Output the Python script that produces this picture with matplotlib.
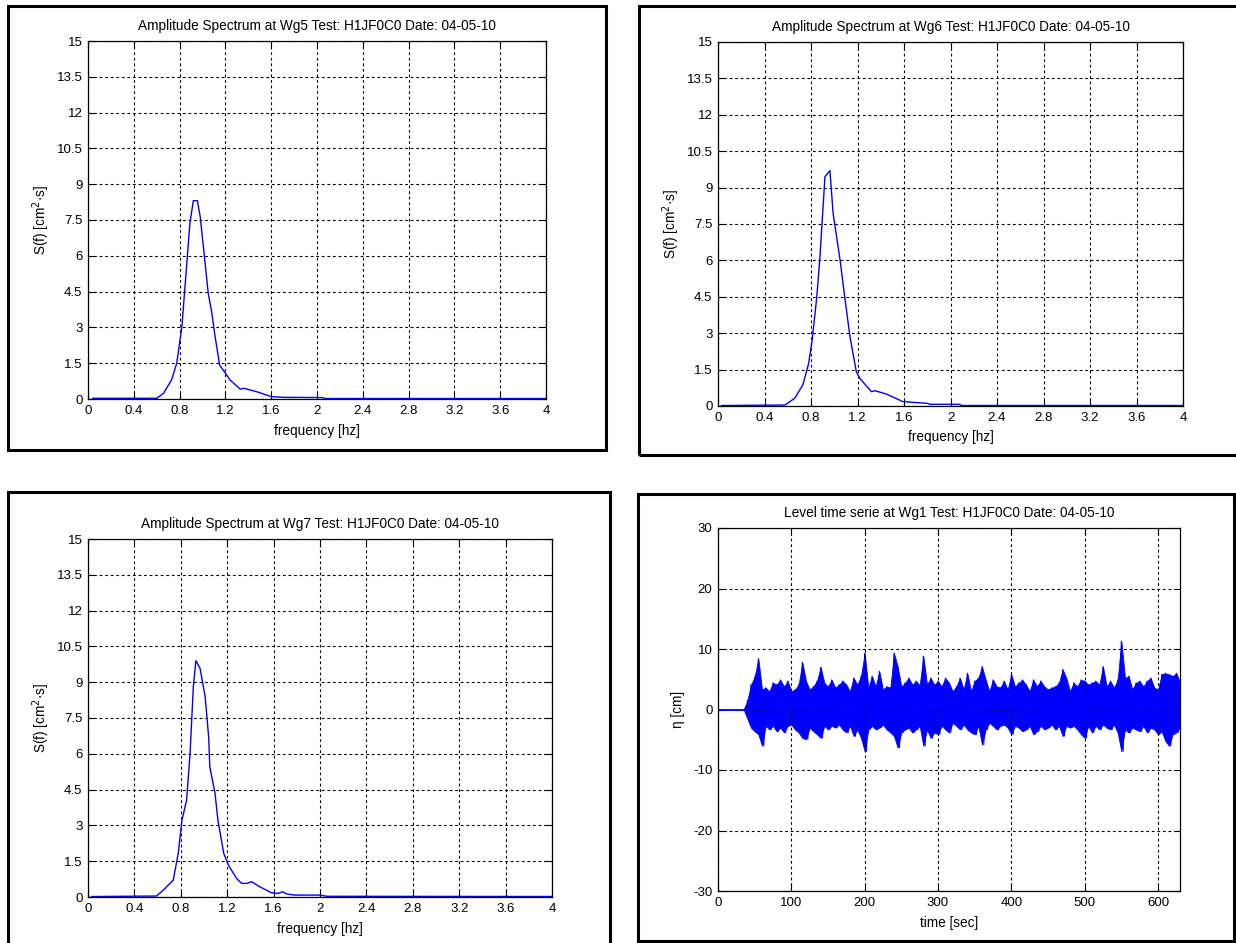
import numpy as np
import matplotlib
matplotlib.use('Agg')
import matplotlib.pyplot as plt
from matplotlib.patches import Rectangle

plt.rcParams['font.family'] = ['Liberation Sans', 'DejaVu Sans']
plt.rcParams['font.size'] = 9.5
plt.rcParams['axes.unicode_minus'] = False

# spectra: frequency [hz] and S(f) [cm^2 s]
wg5_f = [0.04, 0.60, 0.66, 0.73, 0.775, 0.82, 0.89, 0.92, 0.955, 0.98, 1.02, 1.05, 1.08, 1.11,
         1.15, 1.20, 1.24, 1.33, 1.36, 1.47, 1.60, 1.71, 2.05, 2.06, 4.0]
wg5_s = [0.03, 0.03, 0.24, 0.80, 1.5, 3.03, 7.36, 8.31, 8.31, 7.64, 5.82, 4.43, 3.66, 2.61,
         1.42, 1.08, 0.80, 0.41, 0.45, 0.31, 0.10, 0.07, 0.06, 0.02, 0.02]

wg6_f = [0.03, 0.576, 0.66, 0.73, 0.78, 0.81, 0.85, 0.877, 0.92, 0.963, 0.99, 1.05, 1.09, 1.135,
         1.19, 1.22, 1.32, 1.35, 1.45, 1.59, 1.80, 1.82, 2.08, 2.09, 4.0]
wg6_s = [0.02, 0.04, 0.32, 0.87, 1.76, 2.72, 4.5, 6.15, 9.45, 9.7, 7.94, 6.02, 4.5, 2.86,
         1.41, 1.14, 0.59, 0.63, 0.49, 0.18, 0.11, 0.07, 0.07, 0.02, 0.02]

wg7_f = [0.03, 0.59, 0.65, 0.707, 0.735, 0.778, 0.81, 0.85, 0.88, 0.908, 0.93, 0.966, 1.01, 1.04,
         1.05, 1.095, 1.12, 1.17, 1.21, 1.28, 1.325, 1.37, 1.41, 1.48, 1.58, 1.64, 1.68, 1.71,
         1.78, 2.0, 2.06, 4.0]
wg7_s = [0.02, 0.04, 0.29, 0.57, 0.71, 1.83, 3.22, 4.06, 6.02, 8.81, 9.9, 9.58, 8.39, 6.72,
         5.46, 4.34, 3.22, 1.83, 1.34, 0.78, 0.57, 0.57, 0.64, 0.43, 0.18, 0.15, 0.22, 0.13,
         0.08, 0.08, 0.03, 0.02]

# level time serie at Wg1: quiet start, then upper / lower extent every 5 sec from 40 to 630 sec
quiet_t = [0, 35]
quiet_eta = [0, 0]
bin_t = np.arange(40, 631, 5)
eta_upper = [1.5, 4.1, 5.4, 8.4, 3.3, 3.6, 3.0, 4.4, 4.1, 4.9, 3.8, 4.7, 3.0, 3.3, 4.1, 7.8,
             4.7, 3.3, 3.8, 4.7, 7.0, 4.4, 3.8, 4.9, 3.6, 4.1, 4.7, 4.1, 3.0, 5.2, 4.1, 5.5,
             9.3, 3.6, 5.5, 3.8, 6.3, 3.3, 3.8, 3.6, 9.3, 7.1, 3.8, 4.4, 5.2, 4.1, 4.7, 4.0,
             8.8, 4.1, 5.2, 4.1, 4.7, 3.8, 5.2, 4.4, 3.0, 3.8, 5.2, 3.3, 6.0, 3.0, 4.7, 5.2,
             7.1, 4.9, 3.0, 4.9, 3.8, 3.6, 4.7, 3.3, 5.8, 3.8, 4.4, 4.9, 4.1, 3.0, 4.9, 3.8,
             4.7, 3.8, 3.3, 3.6, 3.8, 4.4, 6.6, 5.2, 3.0, 4.4, 3.8, 4.9, 4.7, 4.1, 4.4, 4.7,
             4.1, 7.1, 3.8, 4.7, 3.6, 4.9, 11.3, 5.2, 5.5, 3.3, 4.4, 4.7, 3.8, 4.7, 5.2, 3.6,
             3.3, 5.8, 6.0, 5.8, 5.5, 6.0, 4.5]
eta_lower = [-1.5, -3.0, -3.6, -4.1, -6.0, -2.7, -3.3, -2.7, -3.6, -3.0, -3.8, -2.7, -2.5, -3.3,
             -3.8, -4.7, -4.9, -3.0, -3.6, -4.1, -4.7, -2.7, -3.3, -2.7, -3.0, -2.5, -3.3, -3.8,
             -2.7, -4.4, -3.3, -4.7, -6.9, -3.3, -2.7, -3.3, -3.0, -2.5, -3.3, -3.8, -4.4, -6.3,
             -3.8, -3.3, -3.0, -3.8, -3.3, -2.7, -6.0, -3.3, -4.7, -3.8, -4.1, -2.7, -3.3, -3.8,
             -2.2, -2.7, -3.3, -2.5, -3.3, -3.8, -4.1, -2.7, -5.8, -3.3, -2.2, -2.7, -3.3, -2.7,
             -2.5, -3.0, -4.1, -2.7, -3.0, -3.6, -3.3, -2.7, -4.1, -3.6, -2.7, -3.3, -3.0, -2.5,
             -3.3, -2.7, -4.4, -2.7, -3.0, -2.7, -3.3, -4.1, -4.7, -2.7, -3.8, -2.7, -3.3, -2.5,
             -3.0, -3.3, -2.5, -3.8, -6.9, -3.3, -3.8, -3.0, -3.3, -3.6, -2.7, -3.8, -3.0, -3.3,
             -4.1, -3.6, -5.2, -6.0, -4.1, -3.8, -3.0]

spec_ticks = [0, 1.5, 3, 4.5, 6, 7.5, 9, 10.5, 12, 13.5, 15]
spec_tick_labels = ['0', '1.5', '3', '4.5', '6', '7.5', '9', '10.5', '12', '13.5', '15']
freq_ticks = [0, 0.4, 0.8, 1.2, 1.6, 2, 2.4, 2.8, 3.2, 3.6, 4]
freq_tick_labels = ['0', '0.4', '0.8', '1.2', '1.6', '2', '2.4', '2.8', '3.2', '3.6', '4']
time_ticks = [0, 100, 200, 300, 400, 500, 600]
eta_ticks = [-30, -20, -10, 0, 10, 20, 30]

W, H = 1236, 943
fig = plt.figure(figsize=(W / 100, H / 100), dpi=100)
fig.patch.set_facecolor('white')


def px_axes(l, t, r, b):
    return fig.add_axes([l / W, 1 - b / H, (r - l) / W, (b - t) / H])


def frame(l, t, r, b):
    fig.add_artist(Rectangle((l / W, 1 - b / H), (r - l) / W, (b - t) / H,
                             transform=fig.transFigure, fill=False, edgecolor='black',
                             linewidth=2.2, clip_on=False))


def style(ax):
    ax.grid(True, color='black', linestyle=(0, (2.5, 2.5)), linewidth=0.8)
    ax.tick_params(direction='in', top=True, right=True, length=4, width=0.8,
                   labelsize=9.5, pad=4)
    for s in ax.spines.values():
        s.set_linewidth(0.9)


def spectrum(ax, f, s, name):
    ax.plot(f, s, color='#0000ff', linewidth=1.0)
    ax.set_xlim(0, 4)
    ax.set_ylim(0, 15)
    ax.set_xticks(freq_ticks)
    ax.set_xticklabels(freq_tick_labels)
    ax.set_yticks(spec_ticks)
    ax.set_yticklabels(spec_tick_labels)
    ax.set_title('Amplitude Spectrum at ' + name + ' Test: H1JF0C0 Date: 04-05-10',
                 fontsize=9.8, pad=8)
    ax.set_xlabel('frequency [hz]', fontsize=9.8, labelpad=5)
    ax.set_ylabel('S(f) [cm$^2$·s]', fontsize=9.8, labelpad=3)
    style(ax)


frame(8, 6, 606, 450)
frame(639, 6, 1250, 455)
frame(8, 492, 610, 955)
frame(638, 494, 1234, 941)

ax1 = px_axes(88, 41, 546, 399)
spectrum(ax1, wg5_f, wg5_s, 'Wg5')
ax2 = px_axes(718, 42, 1183, 406)
spectrum(ax2, wg6_f, wg6_s, 'Wg6')
ax3 = px_axes(88, 539, 552, 897)
spectrum(ax3, wg7_f, wg7_s, 'Wg7')

# time serie: filled band between the upper and lower extent, zigzag on top for the spikes
ax4 = px_axes(718, 528, 1180, 891)
ax4.plot(quiet_t, quiet_eta, color='#0000ff', linewidth=1.3)
band_t = np.concatenate([quiet_t[-1:], bin_t])
band_lo = np.concatenate([quiet_eta[-1:], eta_lower])
band_hi = np.concatenate([quiet_eta[-1:], eta_upper])
ax4.fill_between(band_t, band_lo, band_hi, color='#0000ff', linewidth=0.6)
zig_t = np.ravel(np.column_stack([bin_t, bin_t + 2.5]))
zig_eta = np.ravel(np.column_stack([eta_upper, eta_lower]))
ax4.plot(zig_t, zig_eta, color='#0000ff', linewidth=0.8)
ax4.set_xlim(0, 630)
ax4.set_ylim(-30, 30)
ax4.set_xticks(time_ticks)
ax4.set_yticks(eta_ticks)
ax4.set_title('Level time serie at Wg1 Test: H1JF0C0 Date: 04-05-10', fontsize=9.8, pad=8)
ax4.set_xlabel('time [sec]', fontsize=9.8, labelpad=5)
ax4.set_ylabel('η [cm]', fontsize=9.8, labelpad=6)
style(ax4)

fig.savefig('out.png', dpi=100)
